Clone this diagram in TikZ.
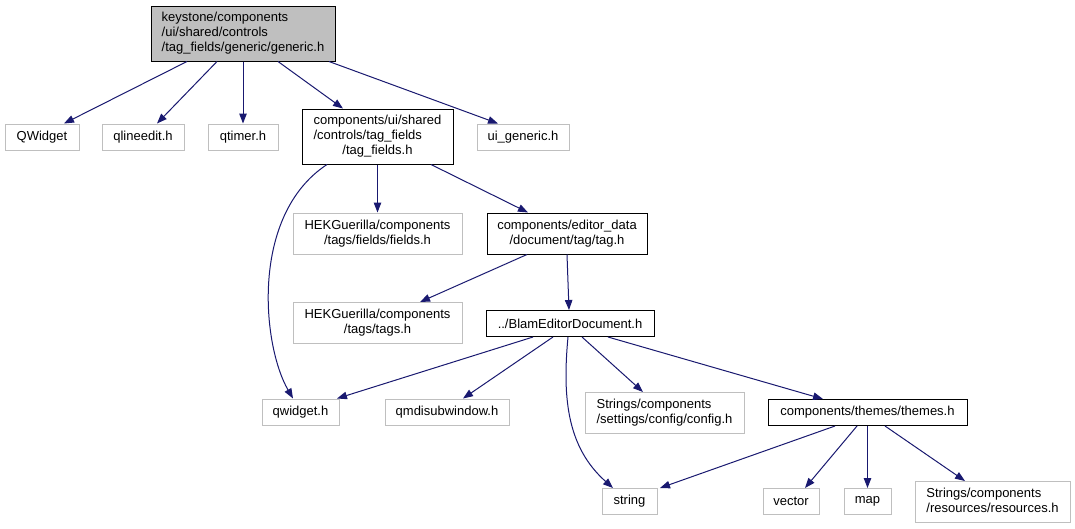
\documentclass[tikz,border=0pt]{standalone}
\usepackage{fontspec}
\setmainfont{Liberation Sans}
\usetikzlibrary{arrows.meta}
\definecolor{edgeblue}{HTML}{191970}
\definecolor{extgray}{HTML}{BFBFBF}
\definecolor{mainfill}{HTML}{BFBFBF}
\newcommand\nf{\fontsize{13}{15}\selectfont}
\newcommand\mlines[1]{\begin{tabular}{@{}l@{}}#1\end{tabular}}
\newcommand\cenline[1]{\multicolumn{1}{@{}c@{}}{#1}}
\begin{document}
\begin{tikzpicture}[x=1pt,y=-1pt,font=\nf,
  base/.style={line width=1pt, inner sep=0pt, minimum height=26pt, align=center},
  ext/.style={base, draw=extgray, fill=white},
  doc/.style={base, draw=black, fill=white},
  edge/.style={draw=edgeblue, line width=1pt, -{Triangle[length=10pt,width=7.5pt,fill=edgeblue]}}]
\useasboundingbox[fill=white] (0,0) rectangle (1075,528);

% row 0
\node[base, draw=black, fill=mainfill, minimum width=184pt, minimum height=55pt] (gen) at (243,33.5)
  {\mlines{keystone/components\\/ui/shared/controls\\/tag\_fields/generic/generic.h}};
% row 1
\node[ext, minimum width=74pt] (qw) at (42,137) {QWidget};
\node[ext, minimum width=82pt] (qle) at (143,137) {qlineedit.h};
\node[ext, minimum width=70pt] (qtim) at (243,137) {qtimer.h};
\node[doc, minimum width=151pt, minimum height=55pt] (tf) at (377.5,136.5)
  {\mlines{components/ui/shared\\/controls/tag\_fields\\\cenline{/tag\_fields.h}}};
\node[ext, minimum width=92pt] (uig) at (523,137) {ui\_generic.h};
% row 2
\node[ext, minimum width=169pt, minimum height=41pt] (fields) at (377.5,233.5)
  {\mlines{HEKGuerilla/components\\\cenline{/tags/fields/fields.h}}};
\node[doc, minimum width=160pt, minimum height=41pt] (tag) at (567,233.5)
  {\mlines{components/editor\_data\\\cenline{/document/tag/tag.h}}};
% row 3
\node[ext, minimum width=169pt, minimum height=41pt] (tags) at (377.5,323)
  {\mlines{HEKGuerilla/components\\\cenline{/tags/tags.h}}};
\node[doc, minimum width=168pt] (blam) at (570,323.5) {../BlamEditorDocument.h};
% row 4
\node[ext, minimum width=77pt] (qwh) at (300.5,412) {qwidget.h};
\node[ext, minimum width=124pt] (qmdi) at (447,412) {qmdisubwindow.h};
\node[ext, minimum width=159pt, minimum height=41pt] (config) at (664.5,413)
  {\mlines{Strings/components\\\cenline{/settings/config/config.h}}};
\node[doc, minimum width=199pt] (themes) at (867.5,412.5) {components/themes/themes.h};
% row 5
\node[ext, minimum width=55pt] (string) at (629.5,501.5) {string};
\node[ext, minimum width=56pt] (vector) at (791,501.5) {vector};
\node[ext, minimum width=47pt] (map) at (867.5,501.5) {map};
\node[ext, minimum width=155pt, minimum height=41pt] (res) at (992.5,502)
  {\mlines{Strings/components\\\cenline{/resources/resources.h}}};

% edges
\draw[edge] ([xshift=-56pt]gen.south) -- ([xshift=22pt]qw.north);
\draw[edge] ([xshift=-26pt]gen.south) -- ([xshift=14pt]qle.north);
\draw[edge] (gen.south) -- (qtim.north);
\draw[edge] ([xshift=35pt]gen.south) -- ([xshift=-34.5pt]tf.north);
\draw[edge] ([xshift=86pt]gen.south) -- ([xshift=-25pt]uig.north);

\draw[edge] ([xshift=-50.5pt]tf.south) .. controls (250,215) and (262,345) .. ([xshift=-7.5pt]qwh.north);
\draw[edge] (tf.south) -- (fields.north);
\draw[edge] ([xshift=53.5pt]tf.south) -- ([xshift=-39pt]tag.north);

\draw[edge] ([xshift=-40pt]tag.south) -- ([xshift=42.5pt]tags.north);
\draw[edge] (tag.south) -- ([xshift=-1pt]blam.north);

\draw[edge] ([xshift=-37pt]blam.south) -- ([xshift=36.5pt]qwh.north);
\draw[edge] ([xshift=-17pt]blam.south) -- ([xshift=16pt]qmdi.north);
\draw[edge] ([xshift=-2pt]blam.south) .. controls (562,400) and (568,448) .. ([xshift=-16.5pt]string.north);
\draw[edge] ([xshift=12pt]blam.south) -- ([xshift=-21.5pt]config.north);
\draw[edge] ([xshift=38pt]blam.south) -- ([xshift=-44.5pt]themes.north);

\draw[edge] ([xshift=-32.5pt]themes.south) -- ([xshift=30.5pt]string.north);
\draw[edge] ([xshift=-10.5pt]themes.south) -- ([xshift=14pt]vector.north);
\draw[edge] (themes.south) -- (map.north);
\draw[edge] ([xshift=17.5pt]themes.south) -- ([xshift=-27.5pt]res.north);
\end{tikzpicture}
\end{document}
